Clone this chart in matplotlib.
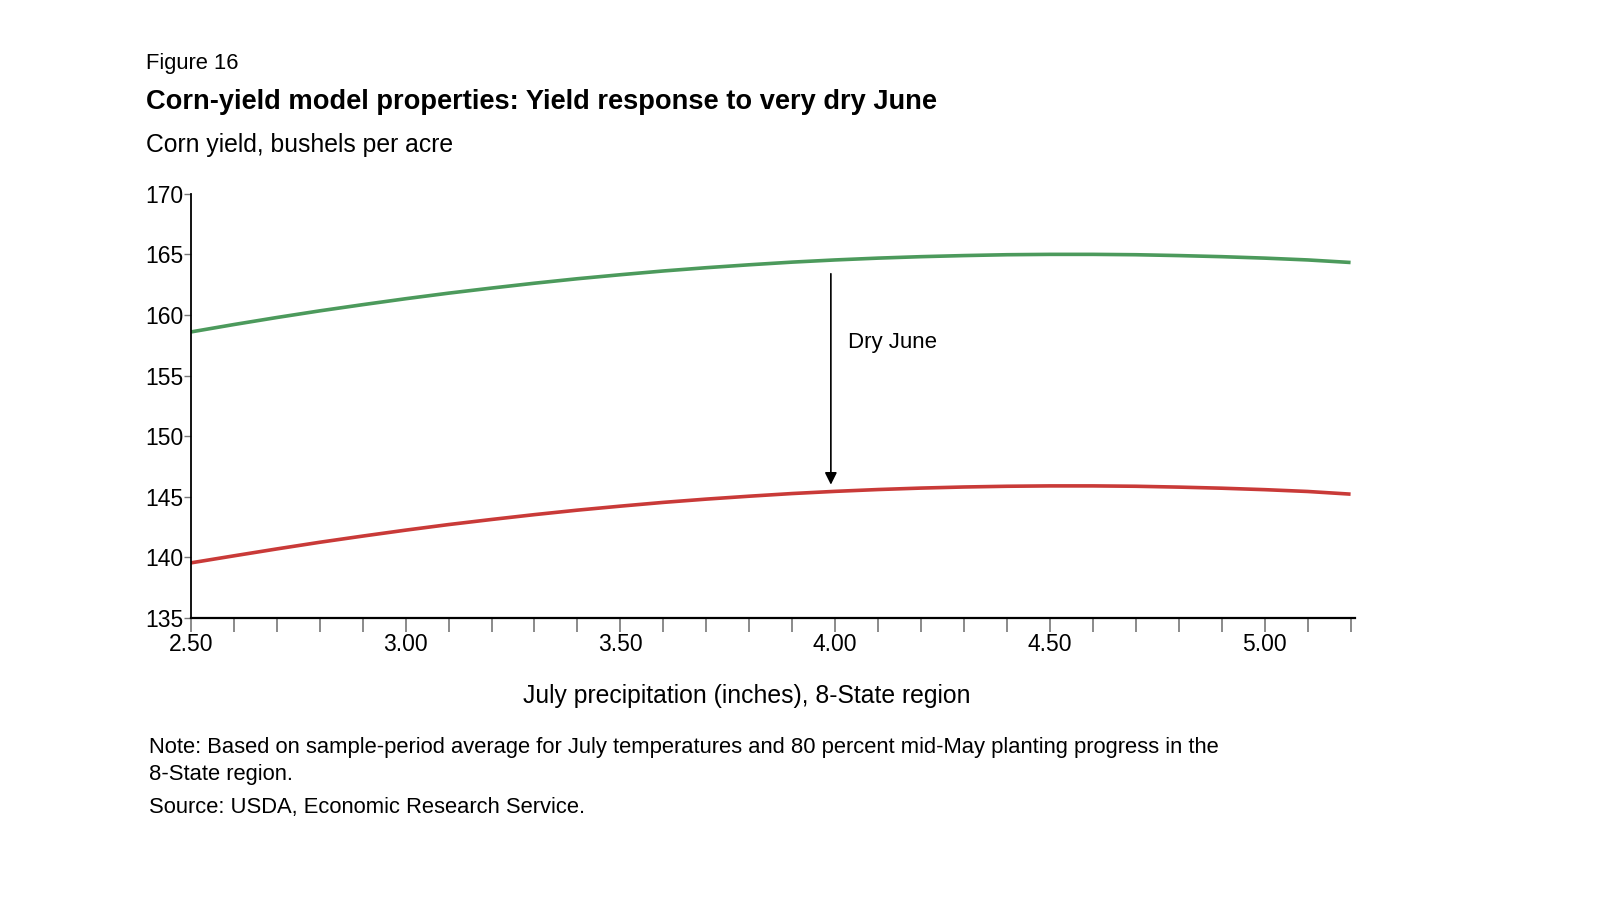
import numpy as np
import matplotlib
matplotlib.use("Agg")
from matplotlib import pyplot as plt

# data
precip = [2.5, 2.6, 2.7, 2.8, 2.9, 3.0, 3.1, 3.2, 3.3, 3.4, 3.5, 3.6, 3.7, 3.8,
          3.9, 4.0, 4.1, 4.2, 4.3, 4.4, 4.5, 4.6, 4.7, 4.8, 4.9, 5.0, 5.1, 5.2]
yield_normal = [158.60, 159.21, 159.79, 160.34, 160.85, 161.34, 161.80, 162.22, 162.62,
                162.99, 163.32, 163.63, 163.90, 164.14, 164.36, 164.54, 164.69, 164.81,
                164.90, 164.97, 165.00, 165.00, 164.97, 164.90, 164.81, 164.69, 164.54,
                164.33]
yield_dry = [139.55, 140.13, 140.70, 141.25, 141.76, 142.25, 142.71, 143.13, 143.53,
             143.90, 144.23, 144.54, 144.81, 145.05, 145.27, 145.45, 145.60, 145.72,
             145.81, 145.87, 145.90, 145.90, 145.87, 145.80, 145.71, 145.59, 145.44,
             145.22]
yticks = [135, 140, 145, 150, 155, 160, 165, 170]
xlabels = ["2.50", "3.00", "3.50", "4.00", "4.50", "5.00"]

plt.rcParams['font.family'] = ['Liberation Sans', 'DejaVu Sans']

fig = plt.figure(figsize=(16, 8.97), dpi=100)
ax = fig.add_axes([0.1193, 0.311, 0.7275, 0.473])

ax.plot(precip, yield_normal, color="#4c9a5c", lw=2.6, solid_capstyle="butt")
ax.plot(precip, yield_dry, color="#c93a38", lw=2.6, solid_capstyle="butt")

# arrow for dry June
ax.annotate("", xy=(3.99, 146.0), xytext=(3.99, 163.4),
            arrowprops=dict(arrowstyle="-|>", color="black", lw=1.2,
                            mutation_scale=18, shrinkA=0, shrinkB=0))
ax.text(4.03, 157.7, "Dry June", fontsize=16, va="center", ha="left")

ax.set_xlim(2.5, 5.21)
ax.set_ylim(135, 170)
ax.set_yticks(yticks)
ax.set_yticklabels([str(v) for v in yticks], fontsize=16.5)
ax.set_xticks(np.arange(2.5, 5.01, 0.5))
ax.set_xticklabels(xlabels, fontsize=16.5)
ax.set_xticks(np.arange(2.5, 5.21, 0.1), minor=True)
ax.tick_params(axis="x", which="both", direction="out", length=10, width=1.2,
               color="#777777", pad=0.5)
ax.tick_params(axis="y", direction="out", length=5, width=1, color="#777777", pad=0.5)

for s in ["top", "right"]:
    ax.spines[s].set_visible(False)
ax.spines["left"].set_linewidth(1.3)
ax.spines["bottom"].set_linewidth(1.6)

fig.text(0.467, 0.224, "July precipitation (inches), 8-State region",
         fontsize=17.8, ha="center", va="center")

fig.text(0.091, 0.929, "Figure 16", fontsize=15.8, va="center")
fig.text(0.091, 0.886, "Corn-yield model properties: Yield response to very dry June",
         fontsize=19.6, fontweight="bold", va="center")
fig.text(0.091, 0.838, "Corn yield, bushels per acre", fontsize=17.8, va="center")

fig.text(0.093, 0.167, "Note: Based on sample-period average for July temperatures and "
         "80 percent mid-May planting progress in the", fontsize=15.8, va="center")
fig.text(0.093, 0.137, "8-State region.", fontsize=15.8, va="center")
fig.text(0.093, 0.100, "Source: USDA, Economic Research Service.", fontsize=15.8, va="center")

fig.savefig("out.png", dpi=100)
